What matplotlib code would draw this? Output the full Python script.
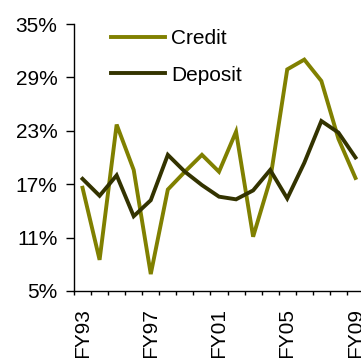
import numpy as np
import matplotlib
matplotlib.use("Agg")
import matplotlib.pyplot as plt
from matplotlib.ticker import FixedLocator, FuncFormatter

plt.rcParams["font.family"] = ["Liberation Sans", "DejaVu Sans"]

years = ["FY93", "FY94", "FY95", "FY96", "FY97", "FY98", "FY99", "FY00", "FY01",
         "FY02", "FY03", "FY04", "FY05", "FY06", "FY07", "FY08", "FY09"]
credit = [16.6, 8.5, 23.7, 18.6, 6.9, 16.4, 18.4, 20.3, 18.4,
          22.9, 11.1, 17.5, 29.9, 31.0, 28.6, 22.1, 17.7]
deposit = [17.6, 15.7, 18.0, 13.4, 15.2, 20.3, 18.4, 16.9, 15.6,
           15.3, 16.3, 18.6, 15.4, 19.4, 24.1, 22.8, 20.0]
yticks = [5, 11, 17, 23, 29, 35]
label_every = 4

fig = plt.figure(figsize=(3.61, 3.58), dpi=100)
ax = fig.add_axes([74 / 361, 1 - 291 / 358, 290 / 361, (291 - 24) / 358])

x = np.arange(len(years))
ax.plot(x, credit, color="#808000", lw=2.8, label="Credit", solid_joinstyle="miter")
ax.plot(x, deposit, color="#333300", lw=2.8, label="Deposit", solid_joinstyle="miter")

ax.set_xlim(-0.5, len(years) - 0.5)
ax.set_ylim(5, 35)

ax.set_yticks(yticks)
ax.yaxis.set_major_formatter(FuncFormatter(lambda v, _: f"{v:.0f}%"))
ax.tick_params(axis="y", direction="out", length=6, width=1, pad=6, labelsize=15)

# labels on every 4th year, tick marks between categories
ax.set_xticks(x[::label_every])
ax.set_xticklabels(years[::label_every], rotation=90)
ax.xaxis.set_minor_locator(FixedLocator(np.arange(-0.5, len(years), 1.0)))
ax.tick_params(axis="x", which="major", length=0, pad=12, labelsize=15)
ax.tick_params(axis="x", which="minor", direction="out", length=3, width=1)

for side in ("top", "right"):
    ax.spines[side].set_visible(False)
for side in ("left", "bottom"):
    ax.spines[side].set_linewidth(1)

ax.legend(loc="upper left", bbox_to_anchor=(111 / 361, 1 - 29 / 358),
          bbox_transform=fig.transFigure, frameon=False, fontsize=15,
          handlelength=2.6, handletextpad=0.3, labelspacing=0.85,
          borderaxespad=0, borderpad=0)

fig.savefig("out.png", dpi=100)
